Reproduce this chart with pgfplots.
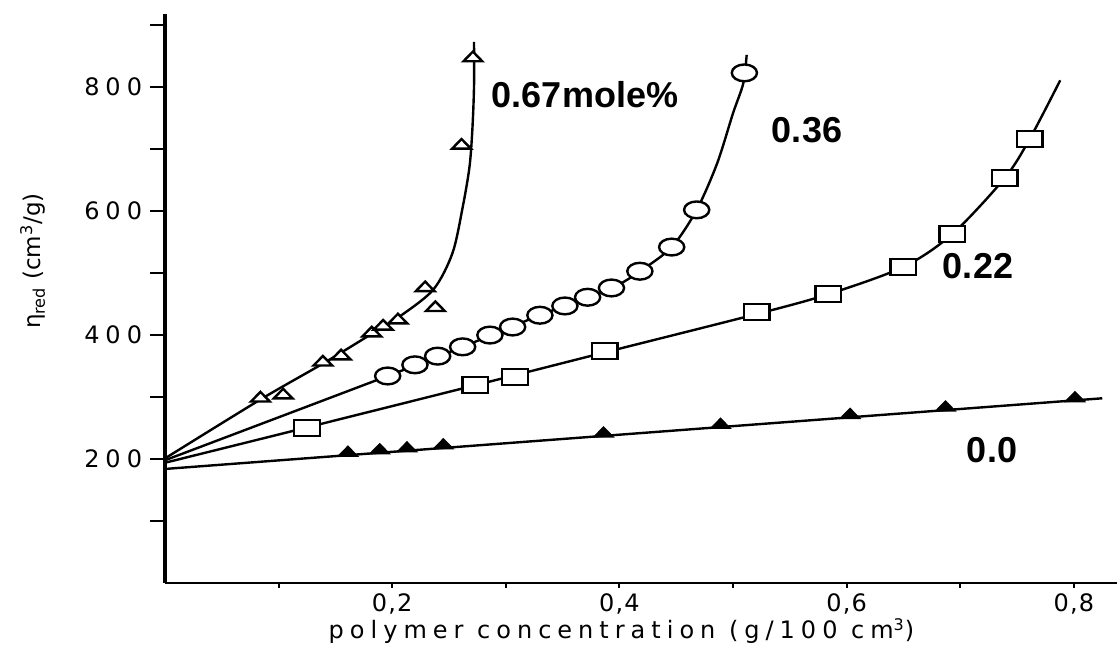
\documentclass[border=0pt]{standalone}
\usepackage{fontspec}
\setmainfont{DejaVu Sans}
\newfontfamily\ytfont[LetterSpace=25]{DejaVu Sans}
\newfontfamily\xtfont[LetterSpace=5]{DejaVu Sans}
\newfontfamily\xlfont[LetterSpace=25]{DejaVu Sans}
\newfontfamily\curvefont{Liberation Sans}
\usepackage{pgfplots}
\pgfplotsset{compat=1.18}

\begin{document}
\begin{tikzpicture}
\begin{axis}[
    at={(0,0)}, anchor=south west,
    scale only axis, width=476pt, height=284.5pt,
    xmin=0, xmax=0.838, ymin=0, ymax=918,
    axis lines=left, axis line style={-},
    x axis line style={line width=1.1pt},
    y axis line style={line width=1.8pt},
    tick align=outside,
    xtick={0.1,0.2,0.3,0.4,0.5,0.6,0.7,0.8},
    xticklabels={,{0,2},,{0,4},,{0,6},,{0,8}},
    ytick={100,200,300,400,500,600,700,800,900},
    yticklabels={,200,,400,,600,,800,},
    xtick style={black, line width=1pt, /pgfplots/major tick length=2.5pt},
    ytick style={black, line width=1pt, /pgfplots/major tick length=7.5pt},
    /pgf/number format/assume math mode=true,
    xticklabel style={font=\xtfont\fontsize{12}{13}\selectfont, inner sep=1pt},
    yticklabel style={font=\ytfont\fontsize{12}{13}\selectfont, inner sep=1pt, xshift=-6pt},
    clip=false,
]
% fitted curves
\addplot[no marks, line width=1.2pt, smooth, tension=0.5] coordinates {
  (0,201) (0.084,296) (0.139,354) (0.182,402) (0.205,428) (0.236,473)
  (0.253,532) (0.262,606) (0.268,671) (0.2705,730) (0.272,800) (0.272,873)};
\addplot[no marks, line width=1.2pt, smooth, tension=0.5] coordinates {
  (0,198) (0.196,334) (0.262,381) (0.330,432) (0.393,476) (0.418,503)
  (0.446,542) (0.468,602) (0.486,677) (0.500,758) (0.509,806) (0.512,852)};
\addplot[no marks, line width=1.2pt, smooth, tension=0.5] coordinates {
  (0,194) (0.125,251) (0.273,319) (0.387,372) (0.521,434) (0.584,466)
  (0.650,510) (0.693,563) (0.739,653) (0.761,716) (0.788,811)};
\addplot[no marks, line width=1.2pt] coordinates {(0,184) (0.825,298)};
% 0.67 mole%
\addplot[only marks, mark=triangle*, mark size=4pt,
  mark options={draw=black, fill=white, line width=1.2pt, xscale=1.35, yscale=0.8}]
  coordinates {(0.084,298) (0.104,303) (0.139,356) (0.155,366) (0.182,403)
  (0.192,414) (0.205,424) (0.229,476) (0.238,444) (0.261,706) (0.271,847)};
% 0.36
\addplot[only marks, mark=*, mark size=4.2pt,
  mark options={draw=black, fill=white, line width=1.2pt, xscale=1.5}]
  coordinates {(0.196,334) (0.220,352) (0.240,366) (0.262,381) (0.286,400)
  (0.306,413) (0.330,432) (0.352,447) (0.372,461) (0.393,476) (0.418,503)
  (0.446,542) (0.468,602) (0.510,823)};
% 0.22
\addplot[only marks, mark=square*, mark size=4pt,
  mark options={draw=black, fill=white, line width=1.2pt, xscale=1.6}]
  coordinates {(0.125,250) (0.273,319) (0.308,332) (0.387,374) (0.521,437)
  (0.584,466) (0.650,510) (0.693,563) (0.739,653) (0.761,716)};
% 0.0
\addplot[only marks, mark=triangle*, mark size=4pt,
  mark options={draw=black, fill=black, line width=0.8pt, xscale=1.35, yscale=0.8}]
  coordinates {(0.161,210) (0.189,214) (0.213,217) (0.245,222) (0.386,241)
  (0.489,255) (0.603,271) (0.687,283) (0.801,298)};
\end{axis}
% labels
\node[font=\curvefont\bfseries\fontsize{18}{20}\selectfont] at (210pt,244pt) {0.67mole\%};
\node[font=\curvefont\bfseries\fontsize{18}{20}\selectfont] at (321pt,226.5pt) {0.36};
\node[font=\curvefont\bfseries\fontsize{18}{20}\selectfont] at (406.5pt,158.5pt) {0.22};
\node[font=\curvefont\bfseries\fontsize{18}{20}\selectfont] at (413.5pt,66.5pt) {0.0};
\node[font=\xlfont\fontsize{12}{13}\selectfont] at (228.25pt,-24pt)
  {polymer concentration (g/100 cm\textsuperscript{3})};
\node[rotate=90, font=\fontsize{11.5}{13}\selectfont] at (-66pt,161pt)
  {η\textsubscript{red} (cm\textsuperscript{3}/g)};
\pgfresetboundingbox
\path[use as bounding box] (-82.5pt,-31.5pt) rectangle (476pt,291.5pt);
\end{tikzpicture}
\end{document}
